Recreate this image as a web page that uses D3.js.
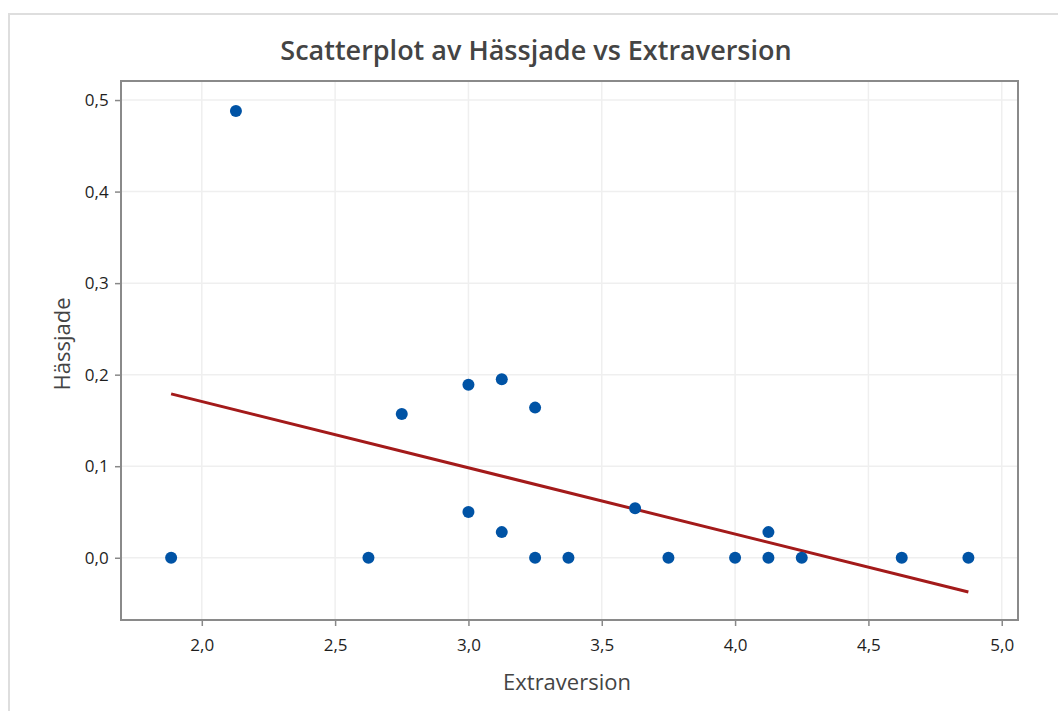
<!DOCTYPE html>
<html>
<head>
<meta charset="utf-8">
<script src="https://cdn.jsdelivr.net/npm/d3@7"></script>
<style>
body { margin: 0; background: #fff; }
text { font-family: "Open Sans", "Noto Sans", sans-serif; }
</style>
</head>
<body>
<div id="chart"></div>
<script>
var width = 1058;
var height = 711;

// data
const extraversion = [1.885, 2.128, 2.625, 2.75, 3.0, 3.125, 3.25, 3.0, 3.125, 3.25, 3.375, 3.625, 3.75, 4.0, 4.125, 4.125, 4.25, 4.625, 4.875];
const hassjade = [0, 0.488, 0, 0.157, 0.189, 0.195, 0.164, 0.050, 0.028, 0, 0, 0.054, 0, 0, 0, 0.028, 0, 0, 0];
const fitX = [1.885, 4.875];
const fitY = [0.179, -0.0375];
const xTicks = [2.0, 2.5, 3.0, 3.5, 4.0, 4.5, 5.0];
const yTicks = [0.0, 0.1, 0.2, 0.3, 0.4, 0.5];

var margin = { left: 121, right: 1018, top: 81, bottom: 620 };

var svg = d3
	.select("#chart")
	.append("svg")
	.attr("width", width)
	.attr("height", height);

// outer light frame
svg.append("path")
	.attr("d", "M9," + height + " V14 H" + width)
	.attr("fill", "none")
	.attr("stroke", "#dedede")
	.attr("stroke-width", 2);

var x = d3.scaleLinear().domain([1.697, 5.061]).range([margin.left, margin.right]);
var y = d3.scaleLinear().domain([-0.068, 0.5208]).range([margin.bottom, margin.top]);

var comma = (d) => d3.format(".1f")(d).replace(".", ",");

// grid
svg.append("g")
	.selectAll("line")
	.data(xTicks)
	.join("line")
	.attr("x1", (d) => x(d)).attr("x2", (d) => x(d))
	.attr("y1", margin.top).attr("y2", margin.bottom)
	.attr("stroke", "#efefef").attr("stroke-width", 1.5);
svg.append("g")
	.selectAll("line")
	.data(yTicks)
	.join("line")
	.attr("y1", (d) => y(d)).attr("y2", (d) => y(d))
	.attr("x1", margin.left).attr("x2", margin.right)
	.attr("stroke", "#efefef").attr("stroke-width", 1.5);

// axes
var xAxis = svg.append("g")
	.attr("transform", "translate(0," + margin.bottom + ")")
	.call(d3.axisBottom(x).tickValues(xTicks).tickFormat(comma).tickSize(6).tickSizeOuter(0));
var yAxis = svg.append("g")
	.attr("transform", "translate(" + margin.left + ",0)")
	.call(d3.axisLeft(y).tickValues(yTicks).tickFormat(comma).tickSize(6).tickSizeOuter(0));
[xAxis, yAxis].forEach(function (a) {
	a.select(".domain").remove();
	a.selectAll(".tick line").attr("stroke", "#888").attr("stroke-width", 1.5);
	a.selectAll(".tick text").attr("fill", "#1e1e1e").style("font-size", "17px").style("font-weight", 500);
});
xAxis.selectAll(".tick text").attr("dy", "1.3em");
yAxis.selectAll(".tick text").attr("dx", "-0.2em");

// plot frame
svg.append("rect")
	.attr("x", margin.left).attr("y", margin.top)
	.attr("width", margin.right - margin.left)
	.attr("height", margin.bottom - margin.top)
	.attr("fill", "none")
	.attr("stroke", "#8a8a8a")
	.attr("stroke-width", 2);

// fitted line
svg.append("line")
	.attr("x1", x(fitX[0])).attr("y1", y(fitY[0]))
	.attr("x2", x(fitX[1])).attr("y2", y(fitY[1]))
	.attr("stroke", "#a31a1a")
	.attr("stroke-width", 3);

// points
svg.append("g")
	.selectAll("circle")
	.data(extraversion)
	.join("circle")
	.attr("cx", (d) => x(d))
	.attr("cy", (d, i) => y(hassjade[i]))
	.attr("r", 6)
	.attr("fill", "#0053a5");

// titles
svg.append("text")
	.attr("x", 536).attr("y", 60)
	.attr("text-anchor", "middle")
	.attr("fill", "#444")
	.style("font-size", "27px")
	.style("font-weight", 600)
	.text("Scatterplot av Hässjade vs Extraversion");

svg.append("text")
	.attr("x", 567).attr("y", 690)
	.attr("text-anchor", "middle")
	.attr("fill", "#444")
	.style("font-size", "22px")
	.style("font-weight", 500)
	.text("Extraversion");

svg.append("text")
	.attr("transform", "translate(70,344) rotate(-90)")
	.attr("text-anchor", "middle")
	.attr("fill", "#444")
	.style("font-size", "22px")
	.style("font-weight", 500)
	.text("Hässjade");
</script>
</body>
</html>
